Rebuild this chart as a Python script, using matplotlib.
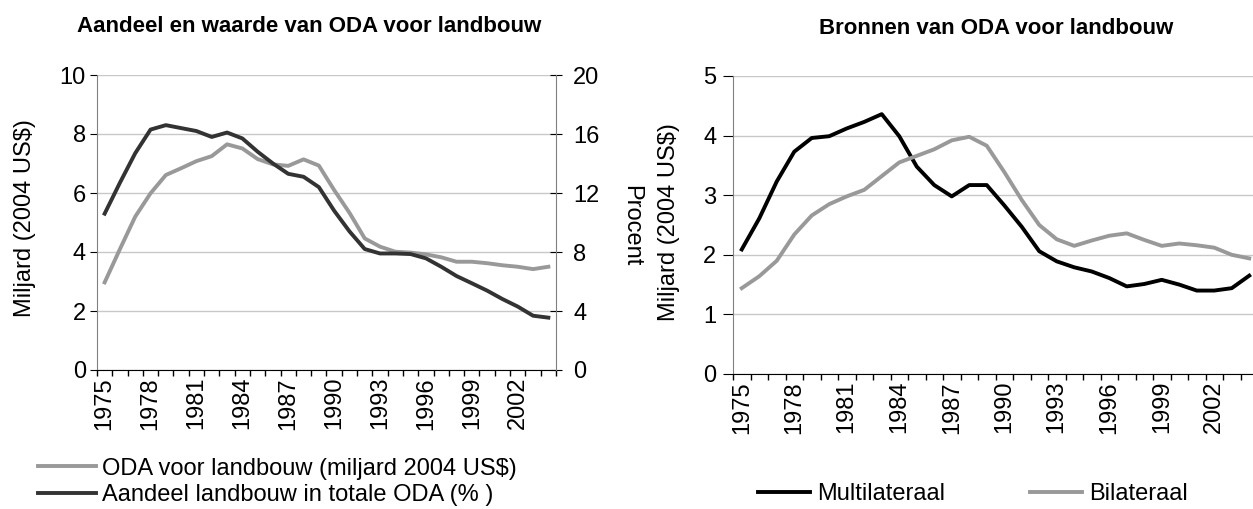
import numpy as np
import matplotlib
matplotlib.use("Agg")
import matplotlib.pyplot as plt

plt.rcParams['font.family'] = ['Liberation Sans', 'DejaVu Sans']

years = list(range(1975, 2005))
tick_years = [1975, 1978, 1981, 1984, 1987, 1990, 1993, 1996, 1999, 2002]

# links: ODA voor landbouw (miljard 2004 US$) en aandeel (%)
oda_landbouw = [2.97, 4.1, 5.2, 5.99, 6.61, 6.84, 7.08, 7.25, 7.65, 7.51,
                7.15, 6.97, 6.92, 7.14, 6.93, 6.1, 5.33, 4.46, 4.18, 4.01,
                3.98, 3.92, 3.82, 3.67, 3.67, 3.62, 3.55, 3.5, 3.42, 3.5]
aandeel_pct = [10.6, 12.7, 14.7, 16.3, 16.6, 16.4, 16.2, 15.8, 16.1, 15.7,
               14.8, 14.0, 13.3, 13.1, 12.4, 10.8, 9.4, 8.2, 7.9, 7.9,
               7.86, 7.57, 7.0, 6.37, 5.88, 5.38, 4.81, 4.3, 3.68, 3.55]

# rechts: bronnen
multilateraal = [2.09, 2.61, 3.23, 3.73, 3.96, 3.99, 4.12, 4.23, 4.36, 3.99,
                 3.48, 3.17, 2.98, 3.17, 3.17, 2.83, 2.47, 2.06, 1.89, 1.79,
                 1.72, 1.61, 1.47, 1.51, 1.58, 1.5, 1.4, 1.4, 1.44, 1.65]
bilateraal = [1.44, 1.64, 1.9, 2.34, 2.66, 2.85, 2.98, 3.09, 3.32, 3.55,
              3.66, 3.77, 3.92, 3.98, 3.83, 3.39, 2.92, 2.5, 2.26, 2.15,
              2.24, 2.32, 2.36, 2.25, 2.15, 2.19, 2.16, 2.12, 2.0, 1.94]

FS = 17
LW = 2.8
W, H = 1253, 509
fig = plt.figure(figsize=(W / 100, H / 100), dpi=100)


def style_x(ax):
    x = np.arange(len(years))
    ax.set_xlim(-0.5, len(years) - 0.5)
    ax.set_xticks([years.index(y) for y in tick_years])
    ax.set_xticklabels([str(y) for y in tick_years], rotation=90, fontsize=FS)
    ax.tick_params(axis='x', which='major', length=0, pad=5)
    ax.set_xticks(np.arange(-0.5, len(years), 1), minor=True)
    ax.tick_params(axis='x', which='minor', length=4, width=1, color='black')
    return x


def style_y(ax):
    ax.grid(axis='y', color='#c8c8c8', linewidth=1)
    ax.set_axisbelow(True)
    ax.spines['top'].set_visible(False)
    ax.spines['right'].set_visible(False)
    ax.spines['left'].set_color('#808080')
    ax.spines['bottom'].set_color('black')
    ax.tick_params(axis='y', length=5, color='black', labelsize=FS, pad=3)


# ---- links ----
ax1 = fig.add_axes([97 / W, 1 - 370 / H, (556 - 97) / W, (370 - 75) / H])
x = style_x(ax1)
style_y(ax1)
ax1.set_ylim(0, 10)
ax1.set_yticks([0, 2, 4, 6, 8, 10])
l1, = ax1.plot(x, oda_landbouw, color='#999999', lw=LW,
               label='ODA voor landbouw (miljard 2004 US$)')
ax2 = ax1.twinx()
ax2.set_ylim(0, 20)
ax2.set_yticks([0, 4, 8, 12, 16, 20])
ax2.spines['top'].set_visible(False)
ax2.spines['left'].set_visible(False)
ax2.spines['bottom'].set_visible(False)
ax2.spines['right'].set_color('#808080')
ax2.tick_params(axis='y', direction='inout', length=9, color='black',
                labelsize=FS, pad=8)
l2, = ax2.plot(x, aandeel_pct, color='#333333', lw=LW,
               label='Aandeel landbouw in totale ODA (% )')

fig.text(309 / W, 1 - 26 / H, 'Aandeel en waarde van ODA voor landbouw',
         ha='center', va='center', fontsize=16, fontweight='bold')
fig.text(25 / W, 1 - 218 / H, 'Miljard (2004 US$)', rotation=90,
         ha='center', va='center', fontsize=FS)
fig.text(631 / W, 1 - 226 / H, 'Procent', rotation=270,
         ha='center', va='center', fontsize=FS)
fig.legend(handles=[l1, l2], loc='center left',
           bbox_to_anchor=(38 / W, 1 - 482 / H), frameon=False,
           fontsize=FS, handlelength=2.45, handletextpad=0.25,
           labelspacing=0.2, borderaxespad=0, borderpad=0)

# ---- rechts ----
ax3 = fig.add_axes([733 / W, 1 - 374 / H, (1258 - 733) / W, (374 - 76) / H])
x = style_x(ax3)
style_y(ax3)
ax3.tick_params(axis='y', length=7, pad=5)
ax3.set_ylim(0, 5)
ax3.set_yticks([0, 1, 2, 3, 4, 5])
m1, = ax3.plot(x, multilateraal, color='black', lw=LW, label='Multilateraal')
m2, = ax3.plot(x, bilateraal, color='#999999', lw=LW, label='Bilateraal')

fig.text(996 / W, 1 - 28 / H, 'Bronnen van ODA voor landbouw',
         ha='center', va='center', fontsize=16, fontweight='bold')
fig.text(669 / W, 1 - 222 / H, 'Miljard (2004 US$)', rotation=90,
         ha='center', va='center', fontsize=FS)
fig.legend(handles=[m1, m2], loc='center left', ncol=2,
           bbox_to_anchor=(758 / W, 1 - 494 / H), frameon=False,
           fontsize=FS, handlelength=2.2, handletextpad=0.3,
           columnspacing=3.6, borderaxespad=0, borderpad=0)

fig.savefig('out.png', dpi=100)
